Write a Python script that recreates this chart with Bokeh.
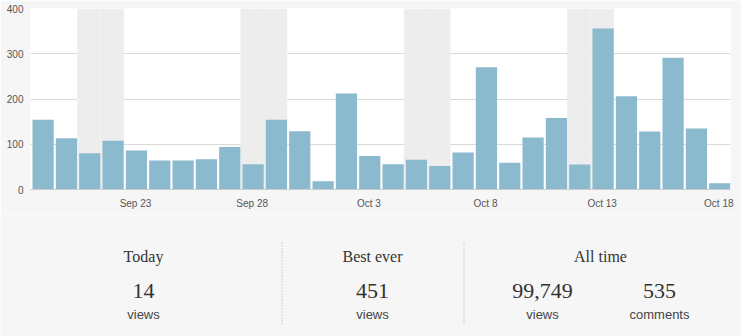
from bokeh.plotting import figure
from bokeh.layouts import column, row
from bokeh.models import Range1d, FixedTicker, ColumnDataSource
from bokeh.core.properties import value
from bokeh.embed import file_html
from bokeh.resources import INLINE

# ---- data ----
dates = ["Sep 19", "Sep 20", "Sep 21", "Sep 22", "Sep 23", "Sep 24", "Sep 25", "Sep 26",
         "Sep 27", "Sep 28", "Sep 29", "Sep 30", "Oct 1", "Oct 2", "Oct 3", "Oct 4",
         "Oct 5", "Oct 6", "Oct 7", "Oct 8", "Oct 9", "Oct 10", "Oct 11", "Oct 12",
         "Oct 13", "Oct 14", "Oct 15", "Oct 16", "Oct 17", "Oct 18"]
views = [154, 113, 80, 108, 86, 64, 64, 67, 94, 56,
         154, 129, 18, 212, 74, 56, 66, 52, 82, 270,
         59, 115, 158, 55, 356, 206, 128, 291, 135, 14]
weekend_dates = ["Sep 21", "Sep 22", "Sep 28", "Sep 29", "Oct 5", "Oct 6", "Oct 12", "Oct 13"]
tick_dates = ["Sep 23", "Sep 28", "Oct 3", "Oct 8", "Oct 13", "Oct 18"]
y_ticks = [0, 100, 200, 300, 400]

stat_titles = ["Today", "Best ever", "All time"]
stat_numbers = ["14", "451", "99,749", "535"]
stat_units = ["views", "views", "views", "comments"]

# ---- chart ----
BG = "#f6f6f6"
BAR = "#8bb9cd"
pos = {d: i + 0.5 for i, d in enumerate(dates)}

p = figure(width=741, height=215, output_backend="svg", toolbar_location=None,
           x_range=Range1d(0, len(dates)), y_range=Range1d(0, 400),
           min_border_left=30, min_border_right=11, min_border_top=8, min_border_bottom=26)
p.background_fill_color = "white"
p.border_fill_color = BG
p.outline_line_color = None

p.vbar(x=[pos[d] for d in weekend_dates], top=[400] * len(weekend_dates), bottom=0,
       width=1.0, fill_color="#ededed", line_color=None)

src = ColumnDataSource(dict(x=[pos[d] + 0.04 for d in dates], top=views))
p.vbar(x="x", top="top", bottom=0, width=0.91, source=src,
       fill_color=BAR, line_color=None)

p.xgrid.grid_line_color = None
p.ygrid.grid_line_color = "#d9d9d9"
p.ygrid.ticker = FixedTicker(ticks=y_ticks)

p.yaxis.ticker = FixedTicker(ticks=y_ticks)
p.yaxis.axis_line_color = None
p.yaxis.major_tick_line_color = None
p.yaxis.minor_tick_line_color = None
p.yaxis.major_tick_out = 0
p.yaxis.major_tick_in = 0
p.yaxis.major_label_standoff = 7
p.yaxis.major_label_text_font = "Liberation Sans"
p.yaxis.major_label_text_font_size = "10px"
p.yaxis.major_label_text_color = "#555555"

p.xaxis.ticker = FixedTicker(ticks=[pos[d] for d in tick_dates])
p.xaxis.major_label_overrides = {pos[d]: d for d in tick_dates}
p.xaxis.axis_line_color = "#cccccc"
p.xaxis.major_tick_line_color = None
p.xaxis.minor_tick_line_color = None
p.xaxis.major_tick_out = 0
p.xaxis.major_tick_in = 0
p.xaxis.major_label_standoff = 8
p.xaxis.major_label_text_font = "Liberation Sans"
p.xaxis.major_label_text_font_size = "10px"
p.xaxis.major_label_text_color = "#555555"

# ---- stats panel (data units = page pixels) ----
s = figure(width=741, height=121, output_backend="svg", toolbar_location=None,
           x_range=Range1d(0, 741), y_range=Range1d(336, 215), min_border=0)
s.axis.visible = False
s.grid.visible = False
s.background_fill_color = BG
s.border_fill_color = BG
s.outline_line_color = None

s.segment(x0=[281.5, 463.5], y0=[242, 242], x1=[281.5, 463.5], y1=[326, 326],
          line_color="#aaaaaa", line_width=1, line_dash="1 2")

s.text(x=[143, 372, 600], y=[256, 256, 256], text=stat_titles,
       text_font=value("Liberation Serif"), text_font_size="16px",
       text_color="#333333", text_align="center", text_baseline="middle")
s.text(x=[143, 372, 542, 659], y=[290, 290, 290, 290], text=stat_numbers,
       text_font=value("Liberation Serif"), text_font_size="22px",
       text_color="#333333", text_align="center", text_baseline="middle")
s.text(x=[143, 372, 542, 659], y=[314, 314, 314, 314], text=stat_units,
       text_font=value("Liberation Sans"), text_font_size="13px",
       text_color="#444444", text_align="center", text_baseline="middle")

layout = column(p, row(s), spacing=0)
open("out.html", "w").write(file_html(layout, INLINE))
